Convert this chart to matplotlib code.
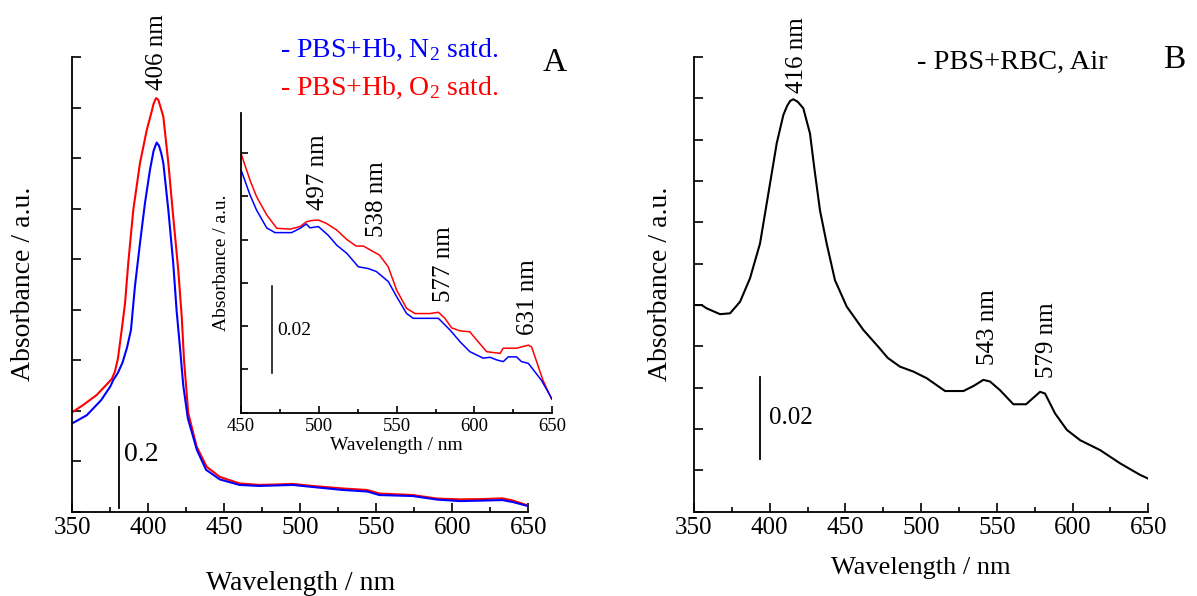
import numpy as np
import matplotlib
matplotlib.use("Agg")
import matplotlib.pyplot as plt
from matplotlib.ticker import MultipleLocator

plt.rcParams['font.family'] = ['Liberation Serif', 'DejaVu Serif']
plt.rcParams['mathtext.fontset'] = 'custom'
plt.rcParams['mathtext.rm'] = 'Liberation Serif'
plt.rcParams['mathtext.it'] = 'Liberation Serif:italic'

# panel A: Hb in PBS, full range
wl_o2 = [350, 357, 366, 372, 376, 378, 380, 382.5, 384.7, 386.8, 390.1, 394.5, 399, 402, 403.5,
         405.1, 406.5, 408, 409.9, 413.2, 416.4, 419.7, 422, 423.5, 426.3, 431.8, 438.4, 447,
         460, 473, 485, 495, 508, 528, 544, 552, 574, 590, 605, 620, 633, 640, 650]
abs_o2 = [0.197, 0.211, 0.231, 0.250, 0.263, 0.277, 0.303, 0.360, 0.413, 0.492, 0.597, 0.690, 0.756,
          0.790, 0.808, 0.819, 0.816, 0.802, 0.782, 0.690, 0.584, 0.479, 0.386, 0.300, 0.195, 0.129,
          0.089, 0.069, 0.056, 0.053, 0.054, 0.055, 0.051, 0.046, 0.043, 0.036, 0.033, 0.026, 0.0245,
          0.025, 0.0265, 0.022, 0.012]

wl_n2 = [350, 359.5, 369, 375, 377, 380, 383, 386, 388.6, 391.2, 394.5, 397.8, 401.1, 403.5, 405.5,
         407, 408.5, 409.9, 413.2, 416.4, 418.6, 421, 423, 426, 432, 438, 447, 460, 473, 495, 508,
         528, 544, 552, 574, 590, 605, 620, 633, 640, 650]
abs_n2 = [0.175, 0.191, 0.221, 0.248, 0.261, 0.275, 0.295, 0.325, 0.360, 0.446, 0.531, 0.611, 0.677,
          0.715, 0.731, 0.725, 0.710, 0.690, 0.597, 0.492, 0.399, 0.320, 0.250, 0.185, 0.122, 0.083,
          0.064, 0.053, 0.051, 0.053, 0.049, 0.043, 0.040, 0.033, 0.031, 0.024, 0.021, 0.022, 0.023,
          0.019, 0.011]

# inset: 450-650 nm region
ins_wl_o2 = [450, 455.8, 460, 466.5, 473, 481.5, 488, 492, 495.4, 499.7, 505, 511.5, 518, 524, 528.6,
             535, 539, 544.6, 550, 556.4, 561.8, 571.4, 576.8, 581, 585.3, 590.7, 597, 601.4, 607.8,
             616.4, 618.5, 627, 634.6, 636.7, 644, 649.6]
ins_abs_o2 = [0.0599, 0.0537, 0.0499, 0.0457, 0.0426, 0.0424, 0.0430, 0.0441, 0.0444, 0.0445, 0.0437,
              0.0422, 0.0400, 0.0385, 0.0385, 0.0372, 0.0364, 0.0337, 0.0283, 0.0241, 0.0229, 0.0229,
              0.0232, 0.0218, 0.0196, 0.0189, 0.0187, 0.0168, 0.0141, 0.0137, 0.0149, 0.0149, 0.0156,
              0.0152, 0.0075, 0.0031]

ins_wl_n2 = [450, 455.8, 460, 466.5, 471.8, 482.5, 488, 492, 494.3, 499.7, 506, 511.5, 518, 525.4,
             531.8, 537, 544.6, 550, 556.4, 560.7, 576.8, 584.3, 590.7, 597, 605.6, 610, 614.2, 618.5,
             621.7, 627, 630.2, 634.6, 643, 649.6]
ins_abs_n2 = [0.0561, 0.0503, 0.0468, 0.0427, 0.0416, 0.0416, 0.0426, 0.0436, 0.0427, 0.0430, 0.0410,
              0.0387, 0.0368, 0.0337, 0.0333, 0.0326, 0.0303, 0.0268, 0.0229, 0.0218, 0.0218, 0.0191,
              0.0164, 0.0141, 0.0126, 0.0128, 0.0122, 0.0118, 0.0129, 0.0129, 0.0118, 0.0114, 0.0075,
              0.0033]

# panel B: RBC suspension in air
wl_rbc = [350, 355.1, 358.4, 367.2, 373.8, 380.4, 387, 393.6, 400.2, 404.6, 409, 411.5, 413.5, 415.6,
          418.5, 422.2, 426.6, 429.5, 433.2, 437.6, 443.1, 450.9, 461.8, 471.7, 478, 486, 494.9,
          503.7, 510.3, 515.8, 527.9, 534.5, 541.1, 545.5, 552.1, 560.9, 569.3, 578.5, 581.8, 588.4,
          596.2, 605, 618.2, 631.4, 644.6, 650]
abs_rbc = [0.0500, 0.0500, 0.0492, 0.0478, 0.0480, 0.0508, 0.0565, 0.0649, 0.0794, 0.0891, 0.0960,
           0.0982, 0.0994, 0.0998, 0.0992, 0.0976, 0.0915, 0.0830, 0.0729, 0.0649, 0.0560, 0.0496,
           0.0440, 0.0399, 0.0372, 0.0351, 0.0339, 0.0323, 0.0306, 0.0292, 0.0292, 0.0304, 0.0319,
           0.0315, 0.0294, 0.0260, 0.0260, 0.0290, 0.0286, 0.0238, 0.0198, 0.0173, 0.0149, 0.0117,
           0.0089, 0.0080]

peaks_a = [406]
peaks_inset = [497, 538, 577, 631]
peaks_b = [416, 543, 579]

W, H = 1197, 596
fig = plt.figure(figsize=(W / 100, H / 100), dpi=100)


def frac(x0, y0, x1, y1):
    # pixel box -> figure fraction [left, bottom, width, height]
    return [x0 / W, 1 - y1 / H, (x1 - x0) / W, (y1 - y0) / H]


def style_axes(ax, lsize, major=6.5, minor=3.6):
    for s in ['top', 'right']:
        ax.spines[s].set_visible(False)
    for s in ['left', 'bottom']:
        ax.spines[s].set_linewidth(1.3)
    ax.xaxis.set_major_locator(MultipleLocator(50))
    ax.xaxis.set_minor_locator(MultipleLocator(25))
    ax.tick_params(axis='x', which='major', direction='in', length=major, width=1.2,
                   labelsize=lsize, pad=4)
    ax.tick_params(axis='x', which='minor', direction='in', length=minor, width=1.2)
    ax.tick_params(axis='y', which='major', direction='in', length=major, width=1.2, labelleft=False)


# ---- panel A ----
axA = fig.add_axes(frac(72.3, 56.7, 528.3, 511.7))
axA.plot(wl_o2, abs_o2, color='#ff0000', lw=1.5)
axA.plot(wl_n2, abs_n2, color='#0000ff', lw=1.5)
axA.set_xlim(350, 650)
axA.set_ylim(0, 0.901)
axA.yaxis.set_major_locator(MultipleLocator(0.1))
style_axes(axA, 18)
axA.set_xlabel('Wavelength / nm', fontsize=20, labelpad=23)
axA.set_ylabel('Absorbance / a.u.', fontsize=20)
axA.yaxis.set_label_coords(-0.080, 0.5)
axA.text(peaks_a[0], 0.835, f'{peaks_a[0]} nm', rotation=90, ha='center', va='bottom', fontsize=18)
axA.plot([381, 381], [0.008, 0.208], color='black', lw=1.3)
axA.text(384.2, 0.114, '0.2', fontsize=20, va='center', ha='left')

fig.text(280 / W, 1 - 50 / H, '- PBS+Hb, N$_2$ satd.', color='#0000ff', fontsize=20, va='center')
fig.text(280 / W, 1 - 88 / H, '- PBS+Hb, O$_2$ satd.', color='#ff0000', fontsize=20, va='center')
fig.text(543 / W, 1 - 63 / H, 'A', fontsize=24, va='center')

# ---- inset ----
axI = fig.add_axes(frac(241, 112.7, 552.3, 412.7))
axI.patch.set_alpha(0)
axI.plot(ins_wl_o2, ins_abs_o2, color='#ff0000', lw=1.1)
axI.plot(ins_wl_n2, ins_abs_n2, color='#0000ff', lw=1.1)
axI.set_xlim(450, 650)
axI.set_ylim(0, 0.0693)
axI.yaxis.set_major_locator(MultipleLocator(0.01))
style_axes(axI, 13.5, major=5, minor=3)
axI.set_xlabel('Wavelength / nm', fontsize=14, labelpad=1)
axI.set_ylabel('Absorbance / a.u.', fontsize=14)
axI.yaxis.set_label_coords(-0.035, 0.5)
ins_text_pos = [(499.7, 0.0468), (537.5, 0.0406), (580.5, 0.0256), (634.6, 0.0179)]
for p, (tx, ty) in zip(peaks_inset, ins_text_pos):
    axI.text(tx, ty, f'{p} nm', rotation=90, ha='center', va='bottom', fontsize=18)
axI.plot([469.7, 469.7], [0.0092, 0.0292], color='black', lw=1.1)
axI.text(473.5, 0.019, '0.02', fontsize=14, va='center', ha='left')

# ---- panel B ----
axB = fig.add_axes(frac(694, 56.7, 1148.3, 511.7))
axB.plot(wl_rbc, abs_rbc, color='black', lw=1.5)
axB.set_xlim(350, 650)
axB.set_ylim(0, 0.1101)
axB.yaxis.set_major_locator(MultipleLocator(0.01))
style_axes(axB, 18)
axB.set_xlabel('Wavelength / nm', fontsize=19, labelpad=13)
axB.set_ylabel('Absorbance / a.u.', fontsize=20)
axB.yaxis.set_label_coords(-0.046, 0.5)
b_text_pos = [(418, 0.1013), (544.2, 0.0355), (583.2, 0.0323)]
for p, (tx, ty) in zip(peaks_b, b_text_pos):
    axB.text(tx, ty, f'{p} nm', rotation=90, ha='center', va='bottom', fontsize=18)
axB.plot([393.6, 393.6], [0.0127, 0.0327], color='black', lw=1.3)
axB.text(399.3, 0.0227, '0.02', fontsize=18, va='center', ha='left')

fig.text(917 / W, 1 - 62 / H, '- PBS+RBC, Air', fontsize=20.5, va='center')
fig.text(1163 / W, 1 - 60 / H, 'B', fontsize=24, va='center')

fig.savefig('out.png', dpi=100)
